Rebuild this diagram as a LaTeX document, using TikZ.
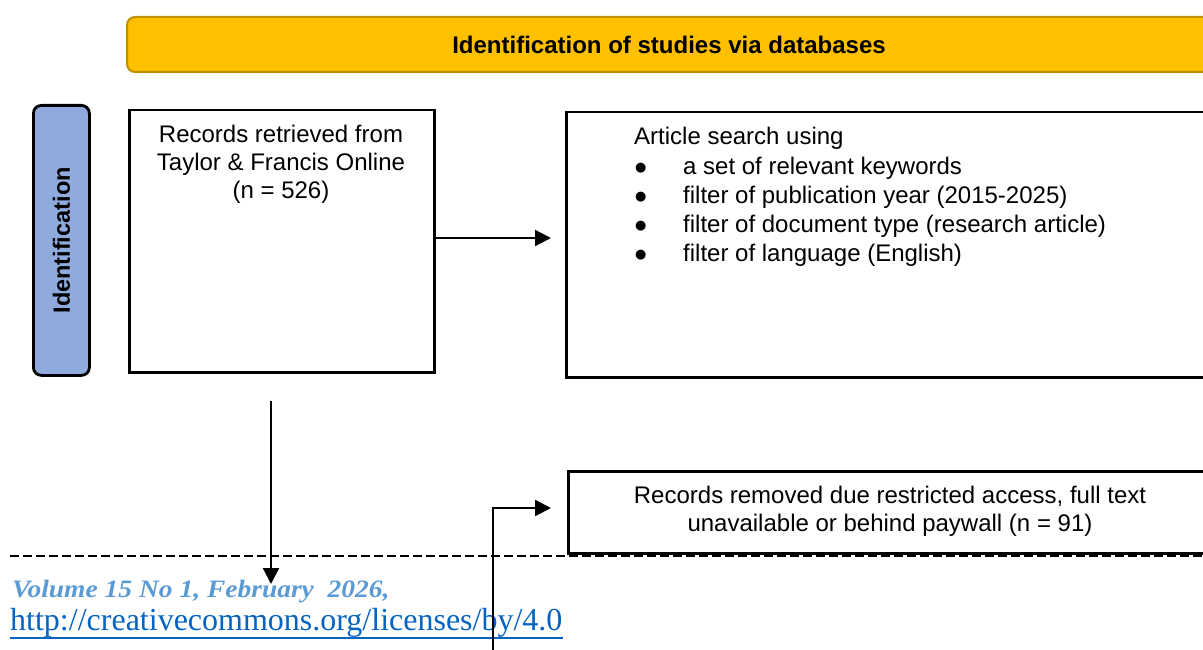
\documentclass[tikz,border=0pt]{standalone}
\usepackage{fontspec}
\setmainfont{Liberation Sans}
\newfontfamily\volfont[FakeStretch=1.1]{Liberation Serif}
\newfontfamily\urlfont{Liberation Serif}
\newfontfamily\symfont{DejaVu Sans}
\usetikzlibrary{arrows.meta}
\definecolor{gold}{HTML}{FFC000}
\definecolor{goldline}{HTML}{BF9000}
\definecolor{idblue}{HTML}{8FAADC}
\definecolor{volblue}{HTML}{5B9BD5}
\definecolor{urlblue}{HTML}{0563C1}
\newcommand{\bigbul}{\makebox[49pt][l]{\hspace{1pt}\raisebox{3pt}{\symfont\fontsize{13}{29}\selectfont ●}}}
\begin{document}
\begin{tikzpicture}[x=1pt,y=-1pt,
  box/.style={draw=black, line width=2.5pt, anchor=north west, inner sep=0pt},
  txt/.style={anchor=base, inner sep=0pt},
  arr/.style={line width=2.2pt, -{Triangle[length=16pt,width=16pt]}},
]
\useasboundingbox (0,0) rectangle (1203,650);
\clip (0,0) rectangle (1203,650);

% banner
\node[draw=goldline, fill=gold, line width=2pt, rounded corners=8pt,
      minimum width=1084pt, minimum height=55pt, anchor=north west, inner sep=0pt,
      font=\fontsize{24}{29}\selectfont\bfseries] (banner) at (126,16)
      {Identification of studies via databases};

% side label
\node[draw=black, fill=idblue, line width=2.8pt, rounded corners=8pt,
      minimum width=56pt, minimum height=270pt, anchor=north west] (idbox) at (32,104) {};
\node[font=\fontsize{23.5}{28}\selectfont\bfseries, rotate=90, inner sep=0pt] (idtxt)
      at (idbox.center) {Identification};

% records box
\node[box, minimum width=305pt, minimum height=262pt] (rec) at (128,109) {};
\node[txt, font=\fontsize{24}{28}\selectfont] (rectxt) at (281,143)
  {\begin{tabular}[t]{@{}c@{}}Records retrieved from\\Taylor \& Francis Online\\(n = 526)\end{tabular}};

% search box
\node[box, minimum width=660pt, minimum height=265pt] (search) at (565,111) {};
\node[txt, anchor=base west, font=\fontsize{24}{29.25}\selectfont] (searchtxt) at (634,145)
  {\begin{tabular}[t]{@{}l@{}}Article search using\\
   \bigbul a set of relevant keywords\\
   \bigbul filter of publication year (2015-2025)\\
   \bigbul filter of document type (research article)\\
   \bigbul filter of language (English)\end{tabular}};

% removed box
\node[box, minimum width=660pt, minimum height=82pt] (removed) at (567,470) {};
\node[txt, font=\fontsize{24}{28}\selectfont] (remtxt) at (890,503)
  {\begin{tabular}[t]{@{}c@{}}Records removed due restricted access, full text\\unavailable or behind paywall (n = 91)\end{tabular}};

% dashed separator
\coordinate (dashL) at (10,556);
\coordinate (dashR) at (1203,556);
\draw[line width=2pt, dash pattern=on 9pt off 4pt] (dashL) -- (dashR);

% footer
\node[anchor=base west, inner sep=0pt, font=\volfont\bfseries\itshape\fontsize{25}{28}\selectfont,
      text=volblue] (vol) at (12,597) {Volume 15 No 1, February\ \ 2026,};
\node[anchor=base west, inner sep=0pt, font=\urlfont\fontsize{32}{36}\selectfont,
      text=urlblue] (url) at (10,630) {http://creativecommons.org/licenses/by/4.0};
\draw[urlblue, line width=2pt] ([yshift=-8pt]url.base west) -- ([yshift=-8pt]url.base east);

% connectors
\coordinate (a1end) at (551,238);
\draw[arr] (rec.east |- a1end) -- (a1end);
\coordinate (d1s) at (271,401);
\coordinate (d1e) at (271,584);
\draw[arr] (d1s) -- (d1e);
\coordinate (e1s) at (493,652);
\coordinate (e1e) at (551,508);
\draw[arr] (e1s) |- (e1e);
\end{tikzpicture}
\end{document}
